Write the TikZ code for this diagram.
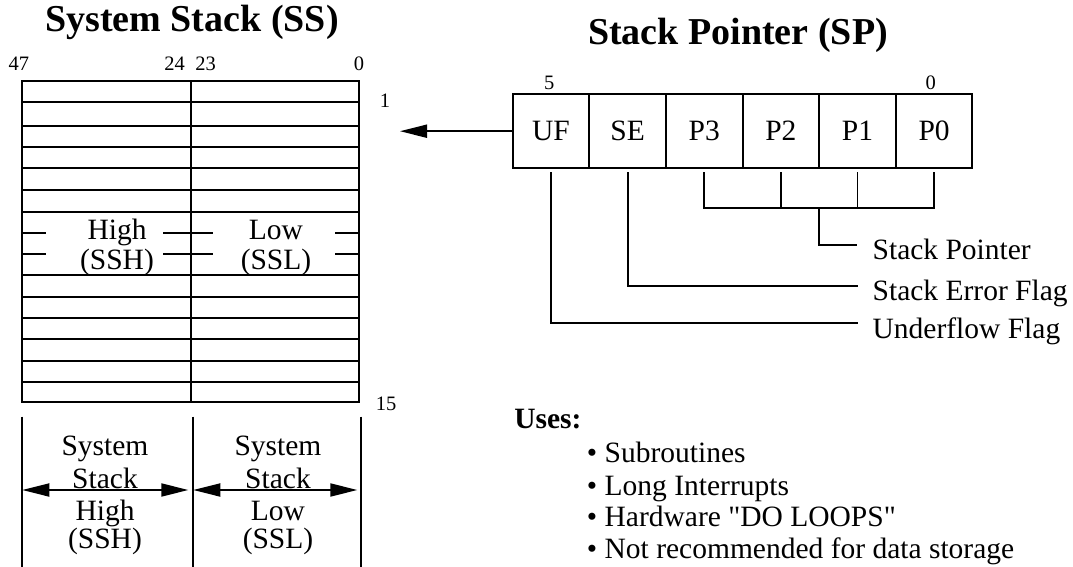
\documentclass[tikz,border=0pt]{standalone}
\usepackage{fontspec}
\setmainfont{Liberation Serif}
% same face without TeX input mapping, so that " stays a straight quote
\newfontfamily\plainserif{Liberation Serif}
\usetikzlibrary{arrows.meta,calc}
\begin{document}
\begin{tikzpicture}[x=1pt,y=-1pt,line width=1.9pt,
  body/.style={font=\fontsize{29.5}{33}\selectfont, inner sep=0pt},
  bodybf/.style={font=\fontsize{29.5}{33}\selectfont\bfseries, inner sep=0pt},
  heading/.style={font=\fontsize{38}{44}\selectfont\bfseries, inner sep=0pt},
  bitno/.style={font=\fontsize{20.5}{22}\selectfont, inner sep=0pt},
  cell/.style={draw, minimum width=76.6pt, minimum height=74.3pt, inner sep=0pt,
    font=\fontsize{29.5}{33}\selectfont},
  tip/.style={-{Triangle[length=27pt,width=13pt]}},
  tips/.style={{Triangle[length=27pt,width=13pt]}-{Triangle[length=27pt,width=13pt]}},
]
\useasboundingbox (0,0) rectangle (1073,567);

% headings
\node[heading, anchor=base] (sstitle) at (192,31.7) {System Stack (SS)};
\node[heading, anchor=base] (sptitle) at (738,45) {Stack Pointer (SP)};

% bit and level numbers
\node[bitno, anchor=base] (b47) at (19,70.7) {47};
\node[bitno, anchor=base] (b24) at (174.5,70.7) {24};
\node[bitno, anchor=base] (b23) at (205.5,70.7) {23};
\node[bitno, anchor=base] (b0)  at (359,70.7) {0};
\node[bitno, anchor=base] (lv1) at (385,107.3) {1};
\node[bitno, anchor=base] (lv15) at (386,410) {15};
\node[bitno, anchor=base] (sp5) at (549.3,90) {5};
\node[bitno, anchor=base] (sp0) at (930.7,90) {0};

% system stack: 15 rows, high and low halves
\draw (22,81) rectangle (359,401.7);
\draw (191,81) -- (191,401.7);
\foreach \yy in {102.3,125.7,147,168.3,190,211.7,275,296.7,317.7,339.3,361,381.7}
  \draw (22,\yy) -- (359,\yy);
\foreach \yy in {233,254} {
  \draw (22,\yy) -- (46,\yy);
  \draw (163,\yy) -- (213,\yy);
  \draw (335,\yy) -- (359,\yy);
}
\node[body, anchor=base] (high) at (117,239.3) {High};
\node[body, anchor=base] (ssh)  at (117,269) {(SSH)};
\node[body, anchor=base] (low)  at (276,239.3) {Low};
\node[body, anchor=base] (ssl)  at (276,269) {(SSL)};

% width markers under the stack
\coordinate (vl) at (22.3,416.7);
\coordinate (vm) at (192.7,416.7);
\coordinate (vr) at (361,416.7);
\coordinate (vlb) at (22.3,567);
\coordinate (vmb) at (192.7,567);
\coordinate (vrb) at (361,567);
\draw (vl) -- (vlb);
\draw (vm) -- (vmb);
\draw (vr) -- (vrb);
\coordinate (hl1) at (22.3,490);
\coordinate (hl2) at (188.3,490);
\coordinate (hr1) at (193.3,490);
\coordinate (hr2) at (357.3,490);
\draw[tips] (hl1) -- (hl2);
\draw[tips] (hr1) -- (hr2);
\node[body, anchor=base] (sysh1) at (105,455) {System};
\node[body, anchor=base] (sysh2) at (105,488.3) {Stack};
\node[body, anchor=base] (sysh3) at (105,520) {High};
\node[body, anchor=base] (sysh4) at (105,548.3) {(SSH)};
\node[body, anchor=base] (sysl1) at (278,455) {System};
\node[body, anchor=base] (sysl2) at (278,488.3) {Stack};
\node[body, anchor=base] (sysl3) at (278,520) {Low};
\node[body, anchor=base] (sysl4) at (278,548.3) {(SSL)};

% stack pointer register
\node[cell] (uf) at (551,131.2) {UF};
\node[cell] (se) at (627.6,131.2) {SE};
\node[cell] (p3) at (704.3,131.2) {P3};
\node[cell] (p2) at (780.9,131.2) {P2};
\node[cell] (p1) at (857.5,131.2) {P1};
\node[cell] (p0) at (934.1,131.2) {P0};
\coordinate (ufout) at (400,131.2);
\draw[tip] (uf.west) -- (ufout);

% field labels
\node[body, anchor=base west] (splbl) at (871.7,259) {Stack Pointer};
\node[body, anchor=base west] (selbl) at (871.7,300) {Stack Error Flag};
\node[body, anchor=base west] (uflbl) at (871.7,338.3) {Underflow Flag};
\coordinate (spend) at ([xshift=-15pt,yshift=14pt]splbl.base west);
\coordinate (seend) at ([xshift=-13.4pt,yshift=14pt]selbl.base west);
\coordinate (ufend) at ([xshift=-13.4pt,yshift=15pt]uflbl.base west);
\coordinate (pbar) at (0,208.3);

\draw ([yshift=-2.7pt]uf.south) |- (ufend);
\draw ([yshift=-2.7pt]se.south) |- (seend);
\draw ([yshift=-2.7pt]p3.south) |- (p0.south |- pbar) -- ([yshift=-2.7pt]p0.south);
\draw ([yshift=-2.7pt]p2.south) -- (p2.south |- pbar);
\draw ([yshift=-2.7pt]p1.south) -- (p1.south |- pbar);
\coordinate (pmid) at ($(p3.south |- pbar)!0.5!(p0.south |- pbar)$);
\draw (pmid) |- (spend);

% uses
\node[bodybf, anchor=base west] (uses) at (513.3,428.3) {Uses:};
\node[body, anchor=base west] (u1) at (586,462.7) {• Subroutines};
\node[body, anchor=base west] (u2) at (586,495) {• Long Interrupts};
\node[body, anchor=base west] (u3) at (586,526.7) {\plainserif • Hardware "DO LOOPS"};
\node[body, anchor=base west] (u4) at (586,558.3) {• Not recommended for data storage};
\end{tikzpicture}
\end{document}
